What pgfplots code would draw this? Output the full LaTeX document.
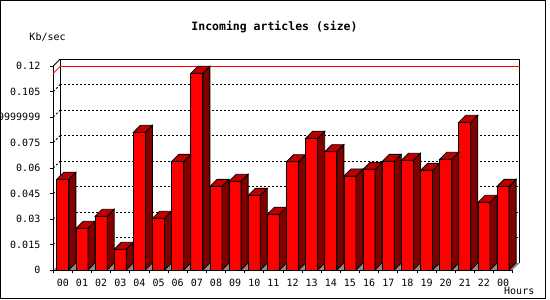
\documentclass[border=0pt]{standalone}
\usepackage{pgfplots}
\pgfplotsset{compat=1.18}
\usepackage{pgfplotstable}
\usepackage{fontspec}
\setmainfont{DejaVu Sans Mono}
\definecolor{barfront}{HTML}{FF0000}
\definecolor{bartop}{HTML}{C00000}
\definecolor{barside}{HTML}{800000}
\definecolor{floorgray}{HTML}{8C8C8C}

\pgfplotstableread{
h v
0 0.0534
1 0.0245
2 0.0316
3 0.0122
4 0.0810
5 0.0304
6 0.0639
7 0.1157
8 0.0492
9 0.0522
10 0.0439
11 0.0328
12 0.0637
13 0.0775
14 0.0696
15 0.0553
16 0.0592
17 0.0639
18 0.0645
19 0.0586
20 0.0651
21 0.0869
22 0.0398
23 0.0492
}\datatable

% top and side faces of a 3D bar, drawn at the bar's top centre
\pgfdeclareplotmark{bar3d}{%
  \pgfmathsetmacro\hh{\rawv*1700}%
  \pgfsetfillcolor{barside}%
  \pgfpathmoveto{\pgfpoint{6pt}{0pt}}%
  \pgfpathlineto{\pgfpoint{13pt}{7pt}}%
  \pgfpathlineto{\pgfpoint{13pt}{7pt-\hh pt}}%
  \pgfpathlineto{\pgfpoint{6pt}{-\hh pt}}%
  \pgfpathclose
  \pgfusepath{fill,stroke}%
  \pgfsetfillcolor{bartop}%
  \pgfpathmoveto{\pgfpoint{-6pt}{0pt}}%
  \pgfpathlineto{\pgfpoint{1pt}{7pt}}%
  \pgfpathlineto{\pgfpoint{13pt}{7pt}}%
  \pgfpathlineto{\pgfpoint{6pt}{0pt}}%
  \pgfpathclose
  \pgfusepath{fill,stroke}%
}

\begin{document}
\begin{tikzpicture}[x=1pt,y=1pt]
\useasboundingbox (0,0) rectangle (550,300);
\draw[line width=1.2pt] (0.6,1.6) rectangle (545.4,299.4);
\node[font=\bfseries\fontsize{11.5}{12}\selectfont, anchor=base, inner sep=0pt] at (274.5,269.3) {Incoming articles (size)};
\node[anchor=base west, inner sep=0pt] at (29.3,259.3) {Kb/sec};
\node[anchor=base west, inner sep=0pt] at (504,5) {Hours};
\begin{axis}[
  at={(53.3pt,30pt)}, anchor=south west,
  scale only axis, width=459.4pt, height=204pt,
  xmin=-0.5, xmax=23.5, ymin=0, ymax=0.12,
  clip=false,
  axis x line*=bottom, axis y line*=left,
  axis line style={line width=0.8pt},
  every tick/.style={line width=0.8pt, black},
  tick align=outside, major tick length=3.5pt,
  scaled y ticks=false,
  xtick={-0.5,0.5,...,23.5},
  xticklabels={00,01,02,03,04,05,06,07,08,09,10,11,12,13,14,15,16,17,18,19,20,21,22,00,{}},
  xticklabel style={anchor=base, inner sep=0pt, xshift=9.57pt, yshift=-12.7pt},
  ytick={0,0.015,0.03,0.045,0.06,0.075,0.09,0.105,0.12},
  yticklabels={0,0.015,0.03,0.045,0.06,0.075,0.0899999999,0.105,0.12},
  yticklabel style={anchor=east, inner sep=0pt, xshift=-9.3pt},
  ymajorgrids,
  grid style={black, line width=0.8pt, dash pattern=on 2pt off 2pt, xshift=7pt, yshift=7pt},
]
% floor
\fill[floorgray] (axis cs:-0.5,0) -- (axis cs:23.5,0) -- ([shift={(7pt,7pt)}]axis cs:23.5,0) -- ([shift={(7pt,7pt)}]axis cs:-0.5,0) -- cycle;
% back frame
\draw[line width=0.8pt] ([shift={(7pt,7pt)}]axis cs:-0.5,0) -- ([shift={(7pt,7pt)}]axis cs:-0.5,0.12) -- ([shift={(7pt,7pt)}]axis cs:23.5,0.12) -- ([shift={(7pt,7pt)}]axis cs:23.5,0);
\draw[line width=0.8pt] (axis cs:-0.5,0.12) -- ([shift={(7pt,7pt)}]axis cs:-0.5,0.12);
\pgfplotsinvokeforeach{0.015,0.03,0.045,0.06,0.075,0.09,0.105}{
  \draw[line width=0.8pt, dash pattern=on 2pt off 2pt] (axis cs:-0.5,#1) -- ([shift={(7pt,7pt)}]axis cs:-0.5,#1);
}
% maximum line
\addplot[red, line width=0.8pt, xshift=7pt, yshift=7pt, forget plot] coordinates {(-0.5,0.1157) (23.5,0.1157)};
\draw[red, line width=0.8pt] (axis cs:-0.5,0.1157) -- ([shift={(7pt,7pt)}]axis cs:-0.5,0.1157);
% 3D faces
\addplot[only marks, mark=bar3d, draw=black, line width=0.8pt,
  visualization depends on={rawy \as \rawv}] table[x=h,y=v]{\datatable};
% front faces
\addplot[ybar, bar width=12pt, fill=barfront, draw=black, line width=0.8pt] table[x=h,y=v]{\datatable};
\end{axis}
\end{tikzpicture}
\end{document}
